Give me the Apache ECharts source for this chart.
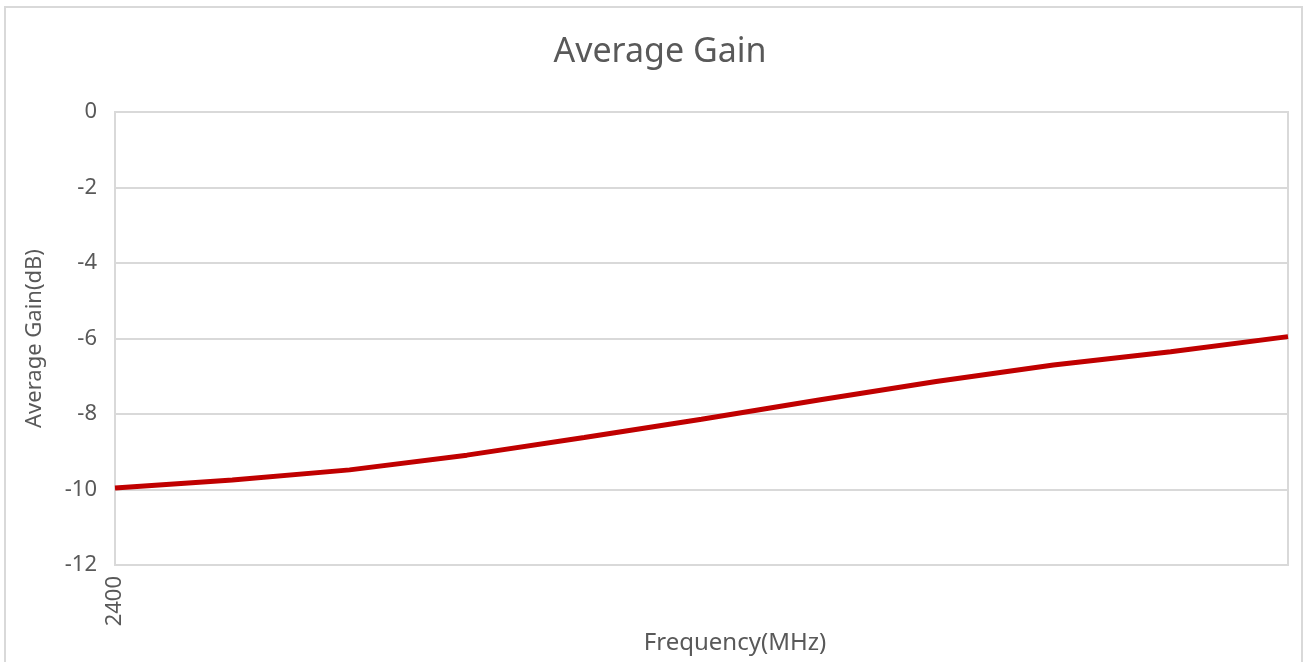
<!DOCTYPE html>
<html>
<head>
<meta charset="utf-8">
<script src="https://cdn.jsdelivr.net/npm/echarts@6/dist/echarts.min.js"></script>
<style>
html,body{margin:0;padding:0;background:#fff;}
#frame{position:absolute;left:4px;top:6px;width:1299px;height:670px;border:2px solid #d9d9d9;box-sizing:border-box;}
#chart{position:absolute;left:0;top:0;width:1307px;height:662px;}
</style>
</head>
<body>
<div id="frame"></div>
<div id="chart"></div>
<script>
const categories = ['2400','2410','2420','2430','2440','2450','2460','2470','2480','2490','2500'];
const tickLabels = ['2400','','','','','','','','','',''];
const gainValues = [-9.96, -9.75, -9.48, -9.09, -8.62, -8.14, -7.63, -7.14, -6.70, -6.35, -5.95];

const font = 'Noto Sans';
const chart = echarts.init(document.getElementById('chart'));
chart.setOption({
  animation: false,
  title: {
    text: 'Average Gain',
    left: 655,
    textAlign: 'center',
    top: 30,
    textStyle: {fontFamily: font, fontSize: 34, fontWeight: 'normal', color: '#595959'}
  },
  grid: {left: 115, right: 19, top: 112, bottom: 97, show: true, borderColor: '#d9d9d9', borderWidth: 2},
  xAxis: {
    type: 'category',
    data: categories,
    boundaryGap: false,
    axisLine: {show: false},
    axisTick: {show: false},
    axisLabel: {
      rotate: 90,
      interval: 0,
      margin: 11,
      fontFamily: font, fontSize: 22, color: '#595959',
      formatter: (v, i) => tickLabels[i]
    }
  },
  yAxis: {
    type: 'value',
    min: -12, max: 0, interval: 2,
    name: 'Average Gain(dB)',
    nameLocation: 'middle',
    nameGap: 69,
    nameTextStyle: {fontFamily: font, fontSize: 22, color: '#595959'},
    axisLine: {show: false},
    axisTick: {show: false},
    axisLabel: {fontFamily: font, fontSize: 22, color: '#595959', margin: 18},
    splitLine: {lineStyle: {color: '#d9d9d9', width: 2}}
  },
  graphic: [{
    type: 'text',
    x: 735, y: 643,
    style: {text: 'Frequency(MHz)', fontFamily: font, fontSize: 24, fill: '#595959', align: 'center', verticalAlign: 'middle'}
  }],
  series: [{
    type: 'line',
    data: gainValues,
    symbol: 'none',
    lineStyle: {color: '#C00000', width: 5}
  }]
});
</script>
</body>
</html>
